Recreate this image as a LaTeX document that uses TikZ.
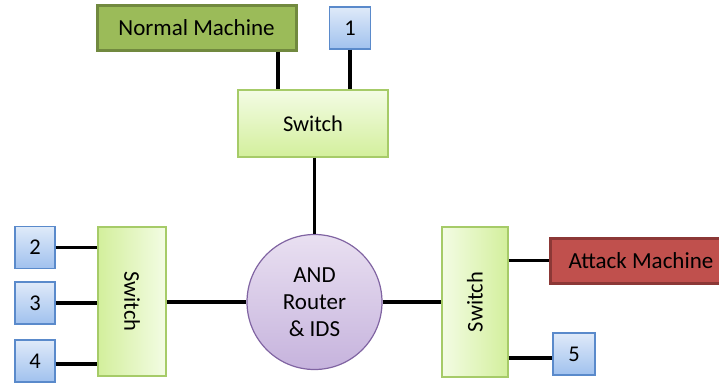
\documentclass[tikz,border=0pt]{standalone}
\usepackage{fontspec}
\setmainfont{Carlito}
\usepackage{graphicx}
\usetikzlibrary{calc}

\definecolor{nmfill}{HTML}{9BBB59}
\definecolor{nmedge}{HTML}{71893F}
\definecolor{amfill}{HTML}{C0504D}
\definecolor{amedge}{HTML}{8C3836}
\definecolor{bluetop}{HTML}{DFEAF9}
\definecolor{bluebot}{HTML}{A0C1EE}
\definecolor{blueedge}{HTML}{5A8ACB}
\definecolor{swlight}{HTML}{F3FCE4}
\definecolor{swgreen}{HTML}{D3EF9C}
\definecolor{swedge}{HTML}{A6CB68}
\definecolor{cirtop}{HTML}{E9E0F1}
\definecolor{cirbot}{HTML}{C6B3DD}
\definecolor{ciredge}{HTML}{8064A2}

\tikzset{
  every node/.style={font=\fontsize{22.5}{27}\selectfont, text=black, inner sep=0pt},
  machine/.style={rectangle, line width=3pt, minimum height=45pt, font=\fontsize{23}{27}\selectfont},
  normalbox/.style={machine, draw=nmedge, fill=nmfill},
  attackbox/.style={machine, draw=amedge, fill=amfill},
  hostbox/.style={rectangle, draw=blueedge, line width=1.2pt, top color=bluetop, bottom color=bluebot,
    minimum width=41pt, minimum height=42pt},
  switchbox/.style={rectangle, draw=swedge, line width=1.3pt},
  hswitch/.style={switchbox, top color=swlight, bottom color=swgreen},
  lswitch/.style={switchbox, right color=swlight, left color=swgreen},
  rswitch/.style={switchbox, left color=swlight, right color=swgreen},
  router/.style={circle, draw=ciredge, line width=1.2pt, top color=cirtop, bottom color=cirbot,
    minimum size=135pt, align=center},
  link/.style={line width=3.3pt, black}
}

\begin{document}
\begin{tikzpicture}[x=1pt, y=-1pt]
  \useasboundingbox (0,0) rectangle (719,383);
  \clip (0,0) rectangle (719,383);

  % devices
  \node[normalbox, minimum width=199pt] (nm) at (196.5,27.5) {Normal Machine};
  \node[hostbox] (b1) at (350,28) {1};
  \node[hswitch, minimum width=150pt, minimum height=67pt] (sw1) at (313,123.5) {Switch};

  \node[router, font=\fontsize{23}{27}\selectfont] (ids) at (314.5,302) {AND\\Router\\\& IDS};

  \node[lswitch, minimum width=68pt, minimum height=149pt] (sw2) at (132,301.5) {\rotatebox{-90}{Switch}};
  \node[hostbox, minimum width=40pt] (b2) at (35,247.5) {2};
  \node[hostbox, minimum width=40pt] (b3) at (35,303) {3};
  \node[hostbox, minimum width=40pt] (b4) at (35,361) {4};

  \node[rswitch, minimum width=66pt, minimum height=150pt] (sw3) at (475,302) {\rotatebox{90}{Switch}};
  \node[attackbox, minimum width=182pt] (am) at (641,260.5) {Attack Machine};
  \node[hostbox, minimum width=42pt] (b5) at (574,354) {5};

  % cabling
  \draw[link] ([xshift=81.5pt]nm.south) -- ([xshift=81.5pt]nm.south |- sw1.north);
  \draw[link] (b1.south) -- (b1.south |- sw1.north);
  \draw[link] (ids.north |- sw1.south) -- (ids.north);

  \draw[link] (b2.east) -- (b2.east -| sw2.west);
  \draw[link] (b3.east) -- (b3.east -| sw2.west);
  \draw[link] ([yshift=-3pt]b4.east) -- ([yshift=-3pt]b4.east -| sw2.west);
  \draw[link] (sw2.east |- ids.west) -- (ids.west);

  \draw[link] (ids.east) -- (ids.east -| sw3.west);
  \draw[link] (sw3.east |- am.west) -- (am.west);
  \draw[link] ([yshift=-4pt]b5.west -| sw3.east) -- ([yshift=-4pt]b5.west);
\end{tikzpicture}
\end{document}
